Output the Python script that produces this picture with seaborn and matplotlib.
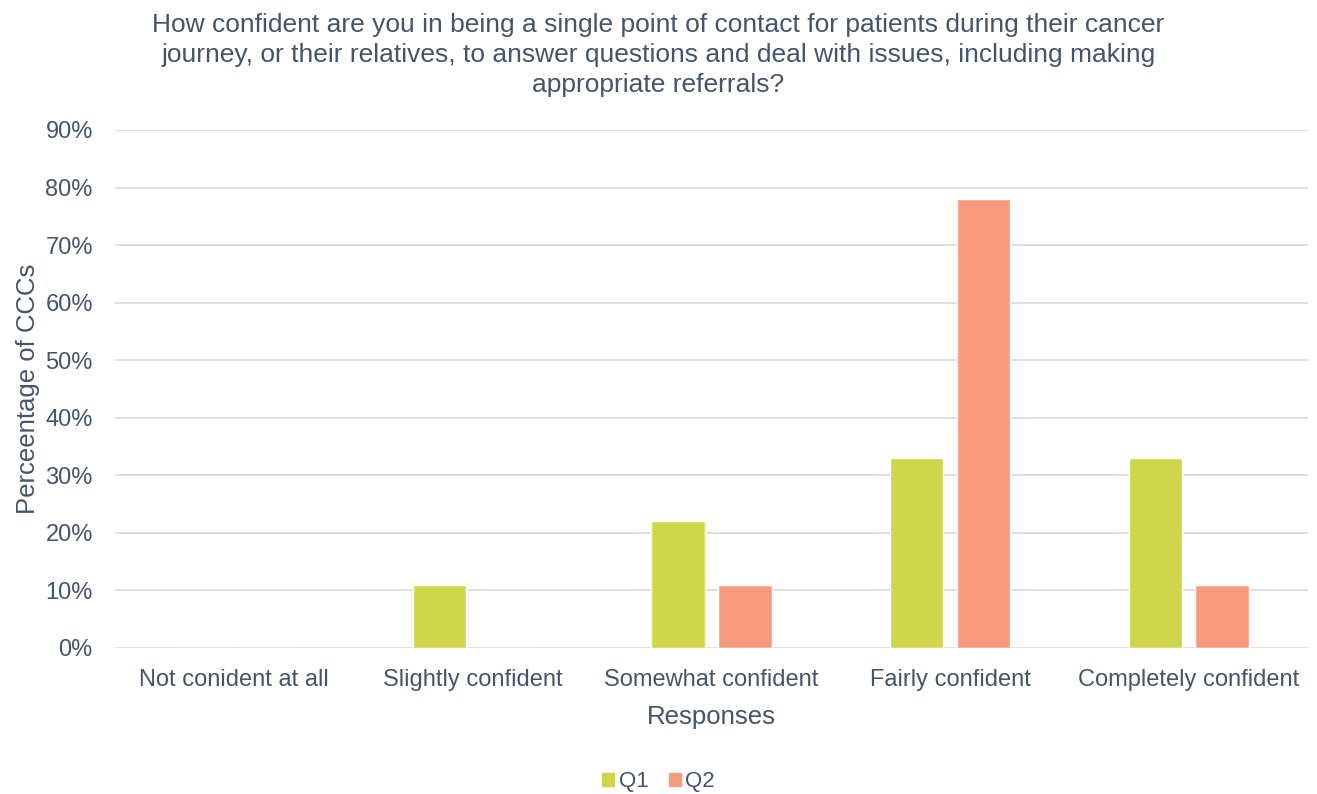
import pandas as pd
import matplotlib.pyplot as plt
import seaborn as sns
from matplotlib.ticker import PercentFormatter

# Survey responses (share of CCCs)
responses = ['Not conident at all', 'Slightly confident', 'Somewhat confident',
             'Fairly confident', 'Completely confident']
q1_values = [0.0, 0.11, 0.22, 0.33, 0.33]
q2_values = [0.0, 0.0, 0.11, 0.78, 0.11]
series = ['Q1', 'Q2']

TEXT = '#44546A'
colors = {'Q1': '#CFD649', 'Q2': '#F79B7E'}

df = pd.DataFrame({
    'Responses': responses * 2,
    'Value': q1_values + q2_values,
    'Series': [series[0]] * len(responses) + [series[1]] * len(responses),
})

sns.set_style('white')
plt.rcParams['font.family'] = ['Liberation Sans', 'DejaVu Sans']

fig = plt.figure(figsize=(13.17, 7.94), dpi=100)
ax = fig.add_axes([115 / 1317, 1 - 648 / 794, 1193 / 1317, 518 / 794])

sns.barplot(data=df, x='Responses', y='Value', hue='Series', palette=colors,
            width=0.56, gap=0.2, ax=ax, legend=False, saturation=1)

ax.set_ylim(0, 0.9)
ax.set_yticks([i / 10 for i in range(10)])
ax.yaxis.set_major_formatter(PercentFormatter(1.0, decimals=0))
ax.grid(axis='y', color='#D9D9D9', linewidth=1.2)
ax.set_axisbelow(True)
for s in ax.spines.values():
    s.set_visible(False)
ax.tick_params(axis='both', length=0, labelsize=17, labelcolor=TEXT)
ax.tick_params(axis='x', pad=15)
ax.tick_params(axis='y', pad=16)

ax.set_xlabel('Responses', fontsize=18.5, color=TEXT, labelpad=10)
ax.set_ylabel('Perceentage of CCCs', fontsize=18.5, color=TEXT, labelpad=4)

fig.text(0.5, 0.984,
         'How confident are you in being a single point of contact for patients during their cancer\n'
         'journey, or their relatives, to answer questions and deal with issues, including making\n'
         'appropriate referrals?',
         ha='center', va='top', fontsize=19, color=TEXT, linespacing=1.33)

handles = [plt.Rectangle((0, 0), 1, 1, color=colors[s]) for s in series]
fig.legend(handles, series, loc='center', bbox_to_anchor=(0.5, 1 - 782 / 794),
           ncol=2, frameon=False, fontsize=16, labelcolor=TEXT,
           handlelength=0.55, handleheight=0.55, handletextpad=0.2, columnspacing=0.9)

fig.savefig('out.png', dpi=100, facecolor='white')
